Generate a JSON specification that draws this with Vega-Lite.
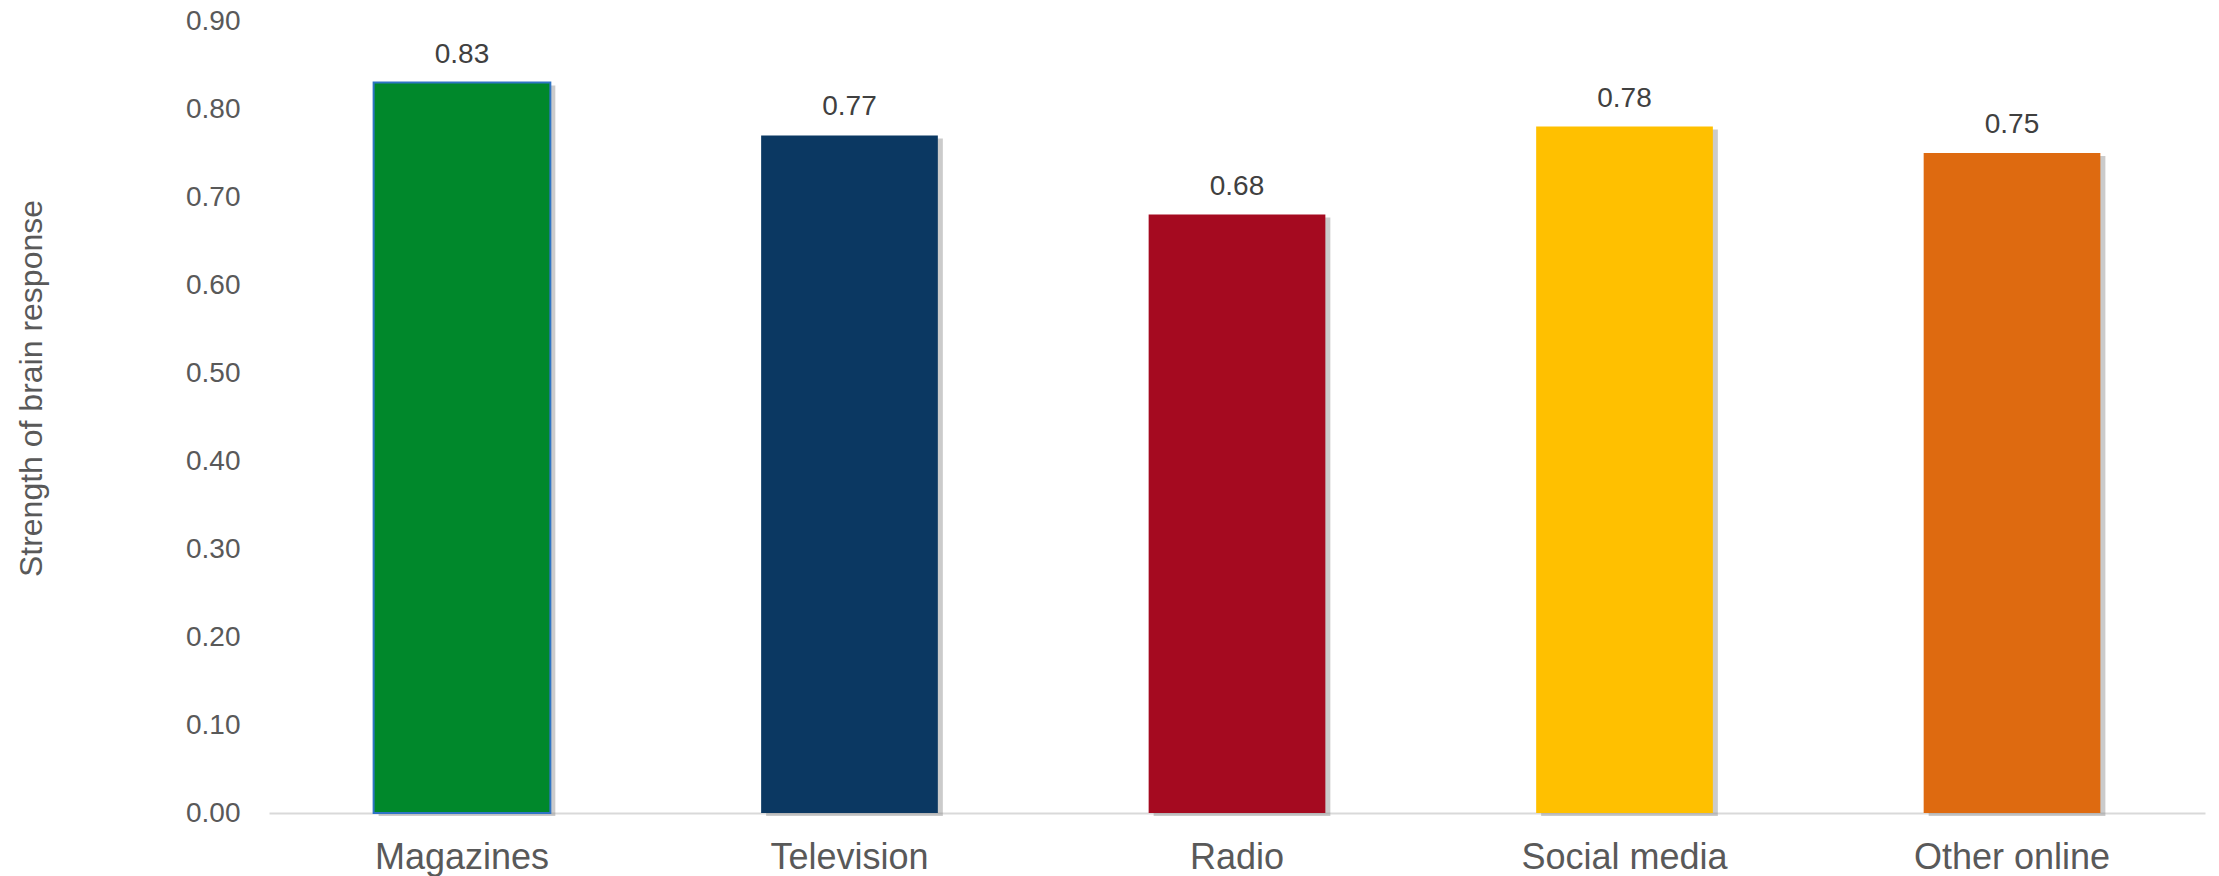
{
  "$schema": "https://vega.github.io/schema/vega-lite/v6.json",
  "autosize": "none",
  "width": 1936,
  "height": 792,
  "padding": {"left": 269, "top": 21, "right": 14, "bottom": 63},
  "background": "white",
  "config": {
    "view": {"stroke": null},
    "font": "Liberation Sans"
  },
  "data": {
    "values": [
      {"category": "Magazines", "value": 0.83},
      {"category": "Television", "value": 0.77},
      {"category": "Radio", "value": 0.68},
      {"category": "Social media", "value": 0.78},
      {"category": "Other online", "value": 0.75}
    ]
  },
  "encoding": {
    "x": {
      "field": "category",
      "type": "nominal",
      "sort": null,
      "scale": {"paddingInner": 0.544, "paddingOuter": 0.27},
      "axis": {
        "title": null,
        "labelAngle": 0,
        "labelFontSize": 36,
        "labelLimit": 0,
        "labelColor": "#595959",
        "labelPadding": 27,
        "ticks": false,
        "domainColor": "#D9D9D9",
        "domainWidth": 2,
        "grid": false
      }
    },
    "y": {
      "field": "value",
      "type": "quantitative",
      "scale": {"domain": [0, 0.9], "nice": false},
      "axis": {
        "title": "Strength of brain response",
        "titleFontSize": 32,
        "titleFontWeight": "normal",
        "titleColor": "#595959",
        "titleAngle": -90,
        "titleX": -238,
        "titleY": 367,
        "titleAlign": "center",
        "titleBaseline": "middle",
        "values": [0, 0.1, 0.2, 0.3, 0.4, 0.5, 0.6, 0.7, 0.8, 0.9],
        "format": ".2f",
        "labelFontSize": 28,
        "labelColor": "#595959",
        "labelPadding": 29,
        "ticks": false,
        "domain": false,
        "grid": false
      }
    }
  },
  "layer": [
    {
      "mark": {"type": "bar", "color": "#8c8c8c", "opacity": 0.45, "xOffset": 5, "yOffset": 3}
    },
    {
      "mark": {"type": "bar", "strokeWidth": 2},
      "encoding": {
        "color": {
          "field": "category",
          "type": "nominal",
          "scale": {
            "domain": ["Magazines", "Television", "Radio", "Social media", "Other online"],
            "range": ["#00882B", "#0B3862", "#A50A20", "#FFC000", "#DE6A10"]
          },
          "legend": null
        },
        "stroke": {
          "condition": {"test": "datum.category === 'Magazines'", "value": "#2E74C4"},
          "value": null
        }
      }
    },
    {
      "mark": {"type": "text", "baseline": "bottom", "dy": -14, "fontSize": 28, "color": "#404040"},
      "encoding": {
        "text": {"field": "value", "type": "quantitative", "format": ".2f"}
      }
    }
  ]
}
